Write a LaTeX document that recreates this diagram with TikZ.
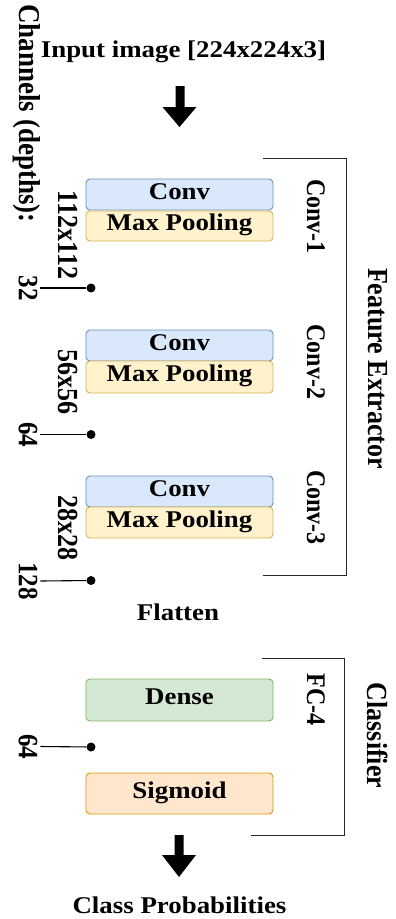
\documentclass[tikz,border=0pt]{standalone}
\usepackage{fontspec}
\setmainfont{Liberation Serif}
\definecolor{convfill}{HTML}{DAE8FC}
\definecolor{convline}{HTML}{6C8EBF}
\definecolor{poolfill}{HTML}{FFF2CC}
\definecolor{poolline}{HTML}{D6B656}
\definecolor{densefill}{HTML}{D5E8D4}
\definecolor{denseline}{HTML}{82B366}
\definecolor{sigfill}{HTML}{FFE6CC}
\definecolor{sigline}{HTML}{D79B00}
\begin{document}
\begin{tikzpicture}[x=1pt,y=-1pt,
  htext/.style={font=\bfseries\fontsize{24}{28}\selectfont, xscale=1.12, inner sep=0pt},
  vtext/.style={font=\bfseries\fontsize{#1}{#1}\selectfont, xscale=1.12, rotate=-90, inner sep=0pt},
  layer/.style={draw, line width=0.9pt, rounded corners=4pt, minimum width=167pt,
    inner sep=0pt, text height=15.7pt, text depth=6.3pt,
    font=\bfseries\fontsize{24}{28}\selectfont, xscale=1.12},
  convbox/.style={layer, fill=convfill, draw=convline, minimum height=31pt},
  poolbox/.style={layer, fill=poolfill, draw=poolline},
  densebox/.style={layer, fill=densefill, draw=denseline, minimum height=42pt},
  sigbox/.style={layer, fill=sigfill, draw=sigline, minimum height=41pt},
  dot/.style={circle, fill=black, inner sep=0pt, minimum size=9pt},
  chan/.style={vtext=25, inner sep=2.5pt},
  lead/.style={line width=1.1pt},
  bracket/.style={draw=black!85, line width=1pt},
  blockarrow/.style={fill=black}
]
\useasboundingbox (0,0) rectangle (396,919);

% input and side caption
\node[htext, anchor=base] (input) at (183.5,57.5) {Input image [224x224x3]};
\node[vtext=27] (channels) at (27,113.5) {Channels (depths):};
\fill[blockarrow] (175.5,86) -- (184.5,86) -- (184.5,107) -- (196.5,107)
  -- (179.5,127) -- (162.5,107) -- (175.5,107) -- cycle;

% convolution blocks
\node[convbox] (conv1) at (179.5,194.5) {Conv};
\node[poolbox, minimum height=30pt] (pool1) at (179.5,226) {Max Pooling};
\node[convbox] (conv2) at (179.5,345.5) {Conv};
\node[poolbox, minimum height=32pt] (pool2) at (179.5,377) {Max Pooling};
\node[convbox] (conv3) at (179.5,491.5) {Conv};
\node[poolbox, minimum height=31pt] (pool3) at (179.5,522.5) {Max Pooling};

\node[vtext=24] (c1lbl) at (316,216.5) {Conv-1};
\node[vtext=24] (c2lbl) at (316,362) {Conv-2};
\node[vtext=24] (c3lbl) at (316,507.5) {Conv-3};

% feature map sizes and channel counts
\node[vtext=26] (s1) at (68,235) {112x112};
\node[vtext=26] (s2) at (68,381.5) {56x56};
\node[vtext=26] (s3) at (68,527.5) {28x28};

\node[chan] (n1) at (28,288) {32};
\node[chan] (n2) at (28,434.5) {64};
\node[chan] (n3) at (28,581) {128};
\node[dot] (d1) at (91,288) {};
\node[dot] (d2) at (91,434.5) {};
\node[dot] (d3) at (91,580.5) {};
\draw[lead] (n1.north) -- (d1);
\draw[lead] (n2.north) -- (d2);
\draw[lead] (n3.north) -- (d3);

% feature extractor bracket
\draw[bracket] (263,158) -- (346,158) -- (346,575) -- (263,575);
\node[vtext=26] (fe) at (378,368.5) {Feature Extractor};

\node[htext, anchor=base] (flatten) at (178,620) {Flatten};

% classifier
\node[densebox] (dense) at (179.5,700) {Dense};
\node[sigbox] (sig) at (179.5,793.5) {Sigmoid};
\node[vtext=24] (fclbl) at (316,699.5) {FC-4};
\node[chan] (n4) at (28,746.5) {64};
\node[dot] (d4) at (91,747) {};
\draw[lead] (n4.north) -- (d4);
\draw[bracket] (262,658) -- (344,658) -- (344,835) -- (251,835);
\node[vtext=26] (cls) at (378,735.5) {Classifier};

% output
\fill[blockarrow] (174.5,835) -- (183.5,835) -- (183.5,855) -- (196,855)
  -- (179,877) -- (162,855) -- (174.5,855) -- cycle;
\node[htext, anchor=base] (out) at (179.5,913) {Class Probabilities};
\end{tikzpicture}
\end{document}
